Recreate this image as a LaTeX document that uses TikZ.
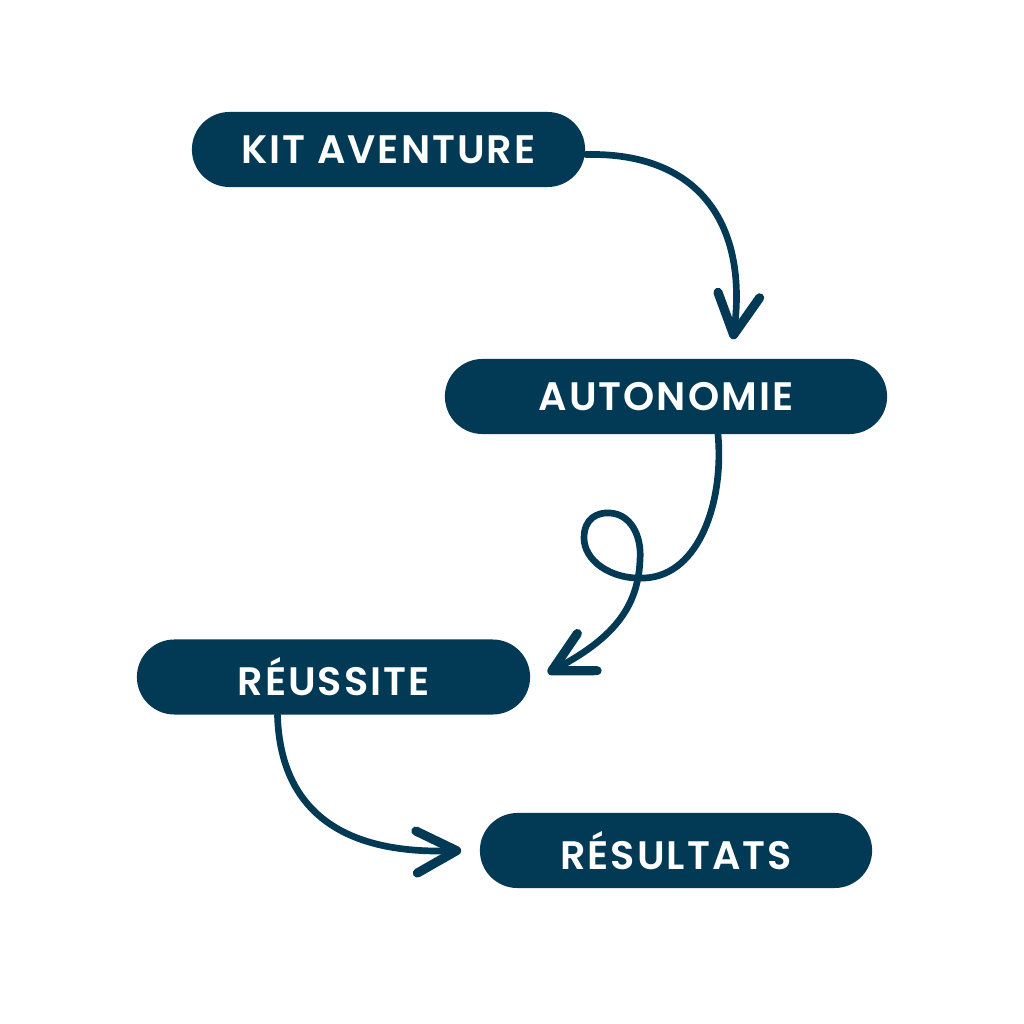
\documentclass[tikz,border=0pt]{standalone}
\usepackage{fontspec}
\setmainfont{Poppins}[BoldFont={* SemiBold}, LetterSpace=5]
\usetikzlibrary{arrows.meta,calc}
\definecolor{petrol}{HTML}{023A55}

\begin{document}
\begin{tikzpicture}[x=0.01cm,y=-0.01cm,
  pill/.style={rectangle, rounded corners=0.375cm, fill=petrol, text=white,
    minimum height=0.75cm, inner sep=0pt, font=\bfseries\fontsize{11.3}{13}\selectfont},
  flow/.style={draw=petrol, line width=1.9pt, line cap=round,
    -{Straight Barb[length=0.4cm,width=0.42cm,line width=2.6pt,round]}}]
\useasboundingbox (0,0) rectangle (1024,1024);

\node[pill, minimum width=3.93cm] (kit) at (388.5,149.5) {KIT AVENTURE};
\node[pill, minimum width=4.42cm] (auto) at (666,396.5) {AUTONOMIE};
\node[pill, minimum width=3.93cm] (reus) at (333.5,677) {RÉUSSITE};
\node[pill, minimum width=3.92cm] (resu) at (676,850.5) {RÉSULTATS};

\coordinate (a1) at ($(auto.north)+(67,-19)$); % tip above autonomie
\coordinate (a2) at ($(reus.east)+(17,-4)$); % tip right of reussite
\coordinate (a3) at ($(resu.west)+(-18,0)$); % tip left of resultats

\draw[flow] ($(kit.east)+(0,5)$) .. controls (700,152) and (748,225) .. (a1);
\draw[flow] ($(auto.south)+(52,0)$) .. controls (724,500) and (700,575) .. (645,578)
  .. controls (610,580) and (584,560) .. (584,538)
  .. controls (584,518) and (598,512) .. (610,513)
  .. controls (630,514) and (642,535) .. (640,560)
  .. controls (638,610) and (610,640) .. (a2); % loop
\draw[flow] ($(reus.south)+(-56,0)$) .. controls (280,800) and (330,855) .. (a3);

\end{tikzpicture}
\end{document}
